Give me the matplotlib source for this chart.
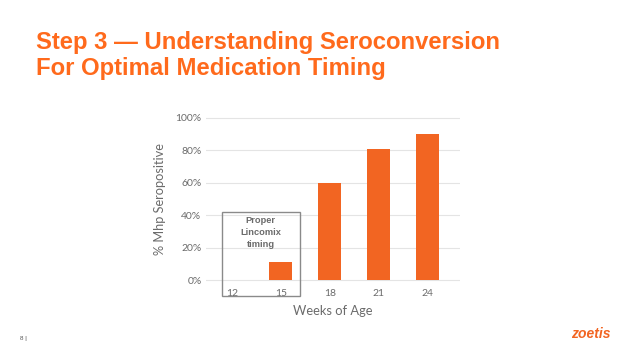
import matplotlib
matplotlib.use("Agg")
import matplotlib.pyplot as plt
from matplotlib.patches import Rectangle

# data
weeks = ['12', '15', '18', '21', '24']
seropositive = [0, 11, 60, 81, 90]
y_ticks = [0, 20, 40, 60, 80, 100]
y_tick_labels = ['0%', '20%', '40%', '60%', '80%', '100%']

orange = '#F26522'
title_orange = '#FF6A1C'
gray = '#6b6b6b'

fig = plt.figure(figsize=(6.24, 3.51), dpi=100)
fig.patch.set_facecolor('white')

# title
fig.text(36/624, 1 - 48.5/351, 'Step 3 \u2014 Understanding Seroconversion',
         family='Liberation Sans', weight='bold', fontsize=17.2, color=title_orange)
fig.text(36/624, 1 - 74.5/351, 'For Optimal Medication Timing',
         family='Liberation Sans', weight='bold', fontsize=17.2, color=title_orange)

# chart
ax = fig.add_axes([205.7/624, 0.1930, 254.3/624, 0.4801])
x = range(len(weeks))
ax.bar(x, seropositive, width=0.47, color=orange, zorder=3)
ax.set_xlim(-0.54, 4.67)
ax.set_ylim(-2, 102)
for t in y_ticks:
    ax.axhline(t, color='#e4e4e4', lw=0.8, zorder=1)
for s in ax.spines.values():
    s.set_visible(False)
ax.set_xticks(list(x))
ax.set_xticklabels(weeks, family='Lato', fontsize=7.5, color=gray)
ax.set_yticks(y_ticks)
ax.set_yticklabels(y_tick_labels, family='Lato', fontsize=7.5, color=gray)
ax.tick_params(length=0)
ax.tick_params(axis='x', pad=4)
ax.tick_params(axis='y', pad=3)
ax.set_xlabel('Weeks of Age', family='Lato', fontsize=9.3, color=gray, labelpad=5)
ax.set_ylabel('% Mhp Seropositive', family='Lato', fontsize=9.2, color=gray, labelpad=7)

# highlight box around the early weeks
ax.add_patch(Rectangle((-0.21, -9.9), 1.6, 52.1, fill=False, edgecolor='#8a8a8a',
                       lw=1.0, clip_on=False, zorder=4))
ax.text(0.585, 39.5, 'Proper\nLincomix\ntiming', ha='center', va='top',
        family='Liberation Sans', weight='bold', fontsize=6.7, color=gray,
        linespacing=1.4)

# footer
fig.text(20/624, 1 - 340/351, '8 |', fontsize=4.5, color='#555555', family='Liberation Sans')
fig.text(611/624, 1 - 338/351, 'zoetis', ha='right', fontsize=10, color=orange,
         family='Liberation Sans', weight='bold', style='italic')

fig.savefig('out.png', dpi=100)
